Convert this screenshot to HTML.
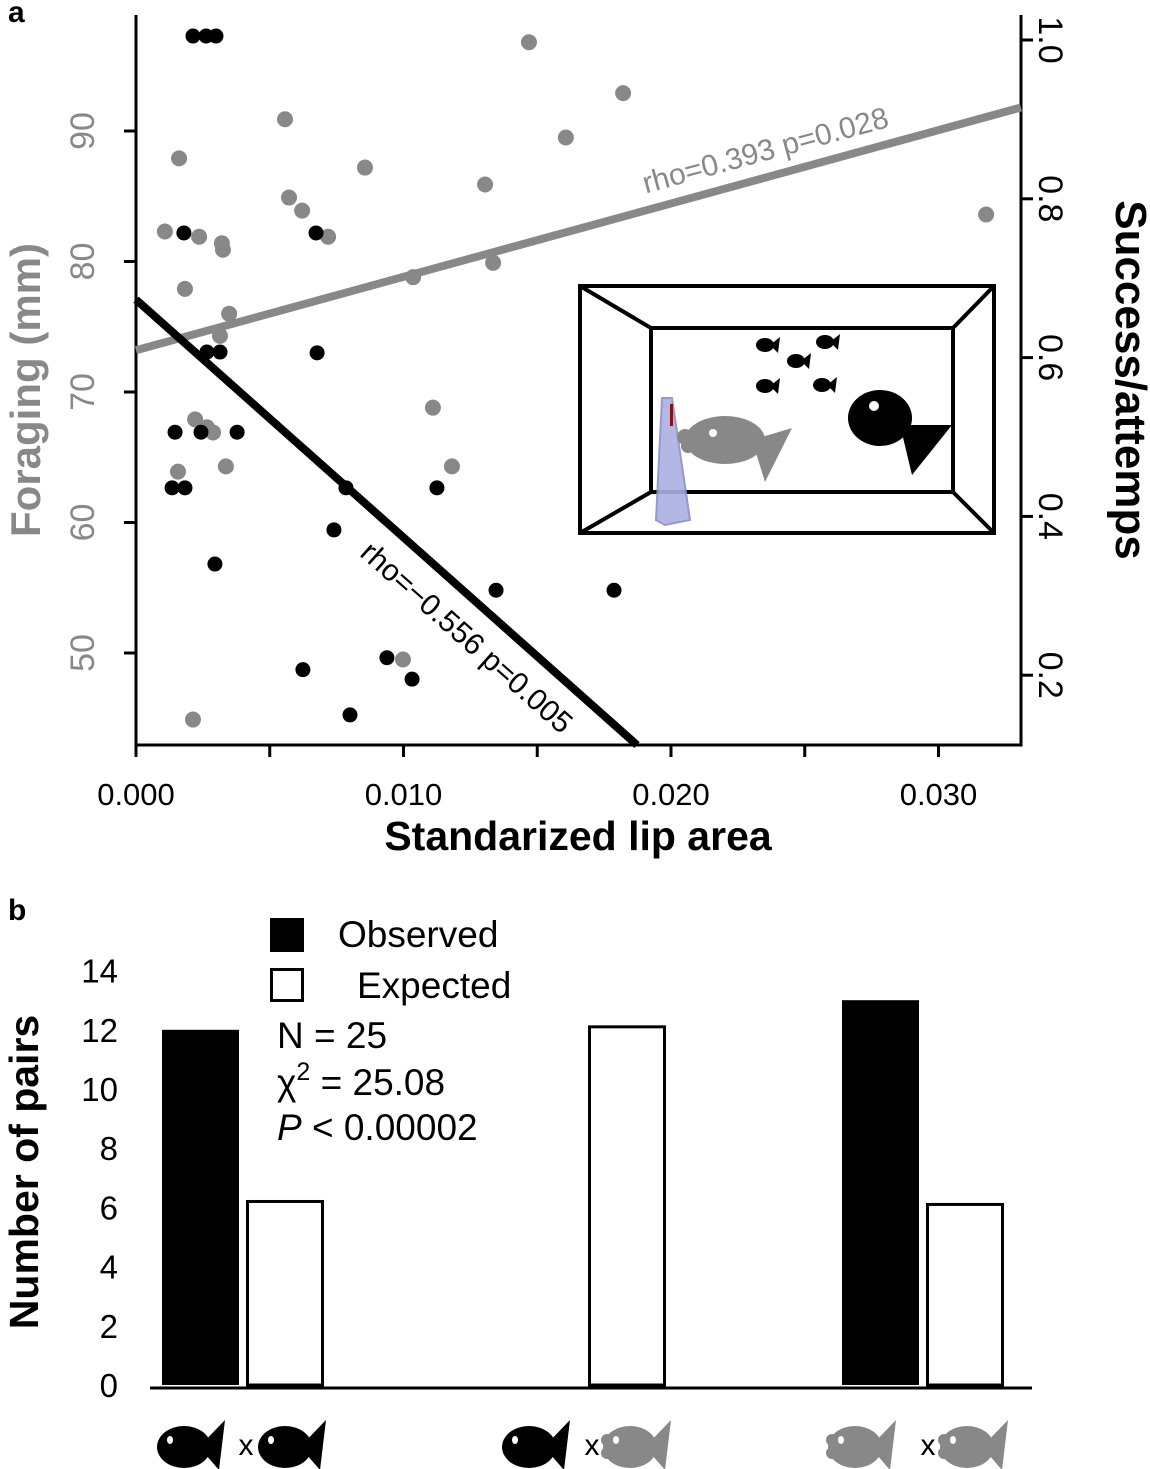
<!DOCTYPE html>
<html><head><meta charset="utf-8"><style>
html,body{margin:0;padding:0;background:#fff;}
svg{display:block;font-family:"Liberation Sans",Arial,sans-serif;}
</style></head><body>
<svg id="fig" width="1150" height="1469" viewBox="0 0 1150 1469">
<text x="8" y="22" font-size="30" font-weight="bold">a</text>
<text x="8" y="920" font-size="30" font-weight="bold">b</text>
<g id="pa"></g>
<g id="inset">
  <rect x="580" y="286" width="414" height="247" fill="#fff" stroke="#000" stroke-width="4"/>
  <rect x="651" y="328" width="302" height="164" fill="none" stroke="#000" stroke-width="4"/>
  <path d="M580 286L651 328M994 286L953 328M580 533L651 492M994 533L953 492" stroke="#000" stroke-width="4"/>
  <path d="M662 398L672 398L690 520L665 525L656 520Z" fill="#aab0e0" stroke="#8890cc" stroke-width="2" opacity="0.9"/>
  <rect x="670" y="404" width="3" height="22" fill="#8b1010"/>
  <g fill="#888">
    <ellipse cx="725" cy="440" rx="40" ry="24"/>
    <circle cx="685" cy="437" r="8"/><circle cx="688" cy="446" r="7"/>
    <path d="M752 440L792 428L765 482Z"/>
    <circle cx="713" cy="433" r="4" fill="#fff"/>
  </g>
  <g fill="#000">
    <ellipse cx="880" cy="418" rx="32" ry="28"/>
    <path d="M900 425L952 425L912 475Z"/>
    <circle cx="874" cy="406" r="5" fill="#fff"/>
  </g>
  <g fill="#000">
    <ellipse cx="765" cy="345" rx="9" ry="7"/><path d="M770 345L780 337L778 353Z"/>
    <ellipse cx="825" cy="342" rx="9" ry="7"/><path d="M830 342L840 334L838 350Z"/>
    <ellipse cx="796" cy="361" rx="9" ry="7"/><path d="M801 361L811 353L809 369Z"/>
    <ellipse cx="765" cy="386" rx="9" ry="7"/><path d="M770 386L780 378L778 394Z"/>
    <ellipse cx="822" cy="385" rx="9" ry="7"/><path d="M827 385L837 377L835 393Z"/>
  </g>
</g>
<g id="pb"></g>
</svg>
<script>
// ---------- Panel a data ----------
const grayX = [0.01469,0.01821,0.00557,0.00161,0.00856,0.01607,0.01305,0.00572,0.00621,0.00108,0.00236,0.00321,0.00325,0.00718,0.00183,0.01036,0.01335,0.00348,0.00314,0.00221,0.00265,0.00288,0.01110,0.00157,0.00336,0.01181,0.00998,0.00213,0.03178];
const grayY = [96.8,92.9,90.9,87.9,87.2,89.5,85.9,84.9,83.9,82.3,81.9,81.4,80.9,81.9,77.9,78.8,79.9,76.0,74.3,67.9,67.3,66.9,68.8,63.9,64.3,64.3,49.5,44.9,83.6];
const blackX = [0.00213,0.00262,0.00299,0.00179,0.00673,0.00265,0.00314,0.00677,0.00146,0.00243,0.00378,0.00135,0.00183,0.00785,0.01125,0.00740,0.00295,0.01346,0.01787,0.00938,0.01032,0.00624,0.00800];
const blackY = [1.005,1.005,1.005,0.757,0.757,0.607,0.607,0.606,0.506,0.506,0.506,0.436,0.436,0.436,0.436,0.383,0.340,0.307,0.307,0.222,0.195,0.207,0.150];
const grayFit = [73.2, 91.8];   // at x=0 and x=0.03308
const blackFit = [0.673, 0.112]; // at x=0 and x=0.01873
const xTicks = [0,0.005,0.010,0.015,0.020,0.025,0.030];
const xTickLabels = ["0.000","","0.010","","0.020","","0.030"];
const leftTicks = [50,60,70,80,90];
const rightTicks = [0.2,0.4,0.6,0.8,1.0];
const rightTickLabels = ["0.2","0.4","0.6","0.8","1.0"];
// ---------- Panel b data ----------
const groups = ["black-black","black-gray","gray-gray"];
const observed = [12,0,13];
const expected = [6.2,12.1,6.1];
const yTicksB = [0,2,4,6,8,10,12,14];

const NS="http://www.w3.org/2000/svg";
function mk(parent,tag,attrs){const e=document.createElementNS(NS,tag);for(const k in attrs)e.setAttribute(k,attrs[k]);parent.appendChild(e);return e;}

const L=136,R=1021,B=745,T=15;
const sx=v=>L+v*26750;
const syL=v=>653-(v-50)*13.05;
const syR=v=>40+(1.0-v)*794;
const pa=document.getElementById('pa');

let ax=mk(pa,'path',{d:`M${L} ${T}V${B}H${R}V${T}`,fill:'none',stroke:'#000','stroke-width':3});



xTicks.forEach((t,i)=>{
  const x=sx(t);
  const tk=mk(pa,'line',{x1:x,x2:x,y1:B,y2:B+12,stroke:'#000','stroke-width':3});
  
  
  if(xTickLabels[i]){
    const tl=mk(pa,'text',{x:x,y:805,'font-size':31,'text-anchor':'middle'});
    tl.textContent=xTickLabels[i];
    
    
  }
});
leftTicks.forEach(t=>{
  const y=syL(t);
  const tk=mk(pa,'line',{x1:L-12,x2:L,y1:y,y2:y,stroke:'#000','stroke-width':3});
  
  
  const tl=mk(pa,'text',{x:0,y:0,'font-size':34,'text-anchor':'middle',fill:'#888',transform:`translate(94 ${y}) rotate(-90)`});
  tl.textContent=t;
  
  
});
rightTicks.forEach((t,i)=>{
  const y=syR(t);
  const tk=mk(pa,'line',{x1:R,x2:R+12,y1:y,y2:y,stroke:'#000','stroke-width':3});
  
  
  const tl=mk(pa,'text',{x:0,y:0,'font-size':34,'text-anchor':'middle',transform:`translate(1039 ${y}) rotate(90)`});
  tl.textContent=rightTickLabels[i];
  
  
});
let t1=mk(pa,'text',{x:578,y:850,'font-size':41,'font-weight':'bold','text-anchor':'middle'});
t1.textContent='Standarized lip area';


let t2=mk(pa,'text',{x:0,y:0,'font-size':42,'font-weight':'bold','text-anchor':'middle',fill:'#888',transform:'translate(40 390) rotate(-90)'});
t2.textContent='Foraging (mm)';


let t3=mk(pa,'text',{x:0,y:0,'font-size':44,'font-weight':'bold','text-anchor':'middle',transform:'translate(1116 380) rotate(90)'});
t3.textContent='Success/attemps';



grayX.forEach((x,i)=>{
  const c=mk(pa,'circle',{cx:sx(x),cy:syL(grayY[i]),r:8,fill:'#888'});
  
  
});
blackX.forEach((x,i)=>{
  const c=mk(pa,'circle',{cx:sx(x),cy:syR(blackY[i]),r:7.5,fill:'#000'});
  
  
});
let gl=mk(pa,'line',{x1:sx(0),y1:syL(grayFit[0]),x2:sx(0.03308),y2:syL(grayFit[1]),stroke:'#888','stroke-width':8});


let bl=mk(pa,'line',{x1:sx(0),y1:syR(blackFit[0]),x2:sx(0.01873),y2:syR(blackFit[1]),stroke:'#000','stroke-width':8});


let a1=mk(pa,'text',{x:0,y:0,'font-size':30,fill:'#888','text-anchor':'middle',transform:'translate(768 160) rotate(-15.3)'});
a1.textContent='rho=0.393 p=0.028';


let a2=mk(pa,'text',{x:0,y:0,'font-size':30,fill:'#000','text-anchor':'middle',transform:'translate(460 645) rotate(41.6)'});
a2.textContent='rho=\u22120.556 p=0.005';



// ---------- Panel b ----------
const pb=document.getElementById('pb');
const by=v=>1385-v*29.6;
const centers=[242,584,922];
yTicksB.forEach(t=>{
  const tl=mk(pb,'text',{x:118,y:by(t)+12,'font-size':33,'text-anchor':'end'});
  tl.textContent=t;
  
  
});
let yb=mk(pb,'text',{x:0,y:0,'font-size':41,'font-weight':'bold','text-anchor':'middle',transform:'translate(38 1172) rotate(-90)'});
yb.textContent='Number of pairs';


groups.forEach((g,i)=>{
  const c=centers[i];
  if(observed[i]>0){
    const r=mk(pb,'rect',{x:c-80,y:by(observed[i]),width:77,height:by(0)-by(observed[i]),fill:'#000'});
    
    
  }
  const r2=mk(pb,'rect',{x:c+5.5,y:by(expected[i]),width:75,height:by(0)-by(expected[i]),fill:'#fff',stroke:'#000','stroke-width':3});
  
  
});
let base=mk(pb,'line',{x1:150,x2:1032,y1:1388,y2:1388,stroke:'#000','stroke-width':3});



// legend + stats
let lg1=mk(pb,'rect',{x:270,y:918,width:34,height:34,fill:'#000'});


let lt1=mk(pb,'text',{x:338,y:947,'font-size':37});lt1.textContent='Observed';


let lg2=mk(pb,'rect',{x:271.5,y:969.5,width:31,height:31,fill:'#fff',stroke:'#000','stroke-width':3});


let lt2=mk(pb,'text',{x:357,y:998,'font-size':37});lt2.textContent='Expected';


let s1=mk(pb,'text',{x:277,y:1048,'font-size':37});s1.textContent='N = 25';


let s2=mk(pb,'text',{x:277,y:1095,'font-size':37});
s2.innerHTML='\u03c7<tspan font-size="25" dy="-15">2</tspan><tspan dy="15"> = 25.08</tspan>';


let s3=mk(pb,'text',{x:277,y:1140,'font-size':37});
s3.innerHTML='<tspan font-style="italic">P</tspan> &lt; 0.00002';



// fish icons
function fish(x,gray,name){
  const g=mk(pb,'g',{transform:`translate(${x} 1420)`,fill:gray?'#888':'#000'});
  
  
  mk(g,'ellipse',{cx:27,cy:27,rx:27,ry:21});
  mk(g,'path',{d:'M42 27L68 0L62 50Z'});
  if(gray){mk(g,'circle',{cx:4,cy:20,r:6});mk(g,'circle',{cx:4,cy:33,r:6});}
  mk(g,'ellipse',{cx:13,cy:20,rx:3,ry:4,fill:'#fff'});
}
function cross(x,name){
  const t=mk(pb,'text',{x:x,y:1455,'font-size':30,'text-anchor':'middle'});t.textContent='x';
  
  
}
fish(157,false,'fish-black-1a');cross(246,'cross-1');fish(258,false,'fish-black-1b');
fish(502,false,'fish-black-2a');cross(592,'cross-2');fish(603,true,'fish-gray-2b');
fish(828,true,'fish-gray-3a');cross(928,'cross-3');fish(940,true,'fish-gray-3b');
</script>
</body></html>
